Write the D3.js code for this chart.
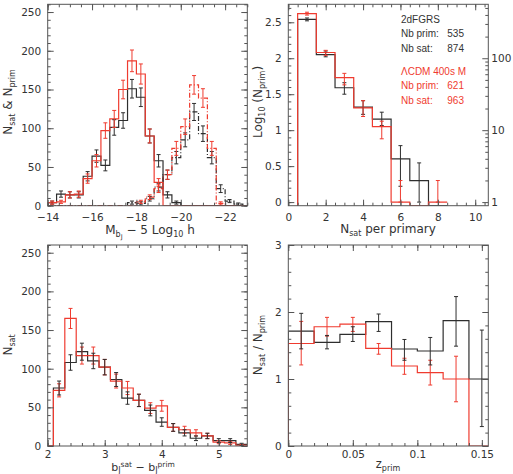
<!DOCTYPE html>
<html>
<head>
<meta charset="utf-8">
<script src="https://cdn.jsdelivr.net/npm/d3@7"></script>
<style>
  body { margin: 0; background: #fff; }
  text { font-family: "DejaVu Sans", sans-serif; fill: #333; }
</style>
</head>
<body>
<div id="chart"></div>
<script>
// ---- panel 1: luminosity functions (bins of 0.4 mag from -14) ----
var magCenters = [-14.2,-14.6,-15.0,-15.4,-15.8,-16.2,-16.6,-17.0,-17.4,-17.8,-18.2,-18.6,
                  -19.0,-19.4,-19.8,-20.2,-20.6,-21.0,-21.4,-21.8,-22.2,-22.6,-23.0];
var satObs     = [4,15,14,14,38,64,52,101,110,151,140,90,58,14,4,0,0,0,0,0,0,0,0];
var satObsErr  = [2,4,4,4,6,8,7,10,10,12,12,9,8,4,2,0,0,0,0,0,0,0,0];
var satSim     = [4,5,14,15,35,58,97,112,150,187,170,90,30,0,0,0,0,0,0,0,0,0,0];
var satSimErr  = [2,2,4,4,6,8,10,11,12,14,13,9,5,0,0,0,0,0,0,0,0,0,0];
var primObs    = [0,0,0,0,0,0,0,0,0,4,3,9,24,40,62,85,121,93,62,22,6,2,0];
var primObsErr = [0,0,0,0,0,0,0,0,0,2,2,3,5,6,8,9,11,10,8,5,2,1.5,0];
var primSim    = [0,0,0,0,0,0,0,0,0,0,5,11,22,40,74,102,156,139,74,3,0,0,0];
var primSimErr = [0,0,0,0,0,0,0,0,0,0,2,3,5,6,9,10,12,12,9,2,0,0,0];

// ---- panel 2: log10 number of primaries vs number of satellites ----
var nSat       = [1,2,3,4,5,6,7,8];
var logObs     = [2.54,2.05,1.59,1.32,1.155,0.60,0.30,null];
var logObsLo   = [2.52,2.02,1.50,1.22,1.065,0.22,0.0,null];
var logObsHi   = [2.56,2.10,1.66,1.41,1.25,0.785,0.545,null];
var logSim     = [2.62,2.08,1.73,1.31,1.05,0,null,0];
var logSimLo   = [2.60,2.04,1.63,1.19,0.88,0,null,0];
var logSimHi   = [2.64,2.11,1.79,1.41,1.125,0.30,null,0.30];
var legendObs  = [["2dFGRS",""],["Nb prim:","535"],["Nb sat:","874"]];
var legendSim  = [["\u039BCDM 400s M",""],["Nb prim:","621"],["Nb sat:","963"]];

// ---- panel 3: magnitude gap distribution (bins of 0.2) ----
var gapCenters = [2.0,2.2,2.4,2.6,2.8,3.0,3.2,3.4,3.6,3.8,4.0,4.2,4.4,4.6,4.8,5.0,5.2,5.4];
var gapObs     = [0,75,108,122,110,102,86,62,59,46,31,24,17,10,13,7,7,2];
var gapObsErr  = [0,9,10,11,10,10,9,8,8,7,5.5,5,4,3,3.5,2.5,2.5,1.5];
var gapSim     = [0,72,165,117,117,102,84,75,59,49,52,24,21,17,13,5,4,1];
var gapSimErr  = [0,8.5,13,11,11,10,9,8.5,8,7,7,5,4.5,4,3.5,2,2,1];

// ---- panel 4: satellites per primary vs redshift (bins of 0.02) ----
var zCenters   = [0.01,0.03,0.05,0.07,0.09,0.11,0.13,0.15];
var ratioObs   = [1.716,1.547,1.667,1.856,1.448,1.418,1.87,1.0];
var ratioObsLo = [1.45,1.45,1.56,1.71,1.28,1.21,1.49,0.29];
var ratioObsHi = [1.98,1.65,1.78,1.97,1.59,1.62,2.23,1.73];
var ratioSim   = [1.53,1.78,1.82,1.458,1.194,1.095,1.0,0];
var ratioSimLo = [1.21,1.64,1.71,1.37,1.07,0.91,0.66,null];
var ratioSimHi = [1.86,1.92,1.92,1.53,1.31,1.28,1.34,null];

var black = "#2e2e2e", red = "#ef3b2f", frameCol = "#555";

var svg = d3.select("#chart").append("svg")
    .attr("width", 513)
    .attr("height", 474);

function makePanel(id, xr, yr, xdom, ydom) {
  var x = d3.scaleLinear().domain(xdom).range(xr);
  var y = d3.scaleLinear().domain(ydom).range(yr);
  var g = svg.append("g");
  svg.append("clipPath").attr("id", id)
    .append("rect")
      .attr("x", xr[0]).attr("y", yr[1])
      .attr("width", xr[1] - xr[0]).attr("height", yr[0] - yr[1]);
  var plot = g.append("g").attr("clip-path", "url(#" + id + ")");
  return { g: g, plot: plot, x: x, y: y, xr: xr, yr: yr };
}

function fmt(d) { return String(d).replace("-", "\u2212"); }

function drawAxes(p, xMajor, xMinor, yMajor, yMinor, mirrorRight, xPad) {
  var g = p.g;
  function ax(axis, tx, ty) {
    var a = g.append("g").attr("transform", "translate(" + tx + "," + ty + ")").call(axis);
    a.select(".domain").remove();
    a.selectAll("line").attr("stroke", frameCol);
    a.selectAll("text").attr("font-size", "10.5px").attr("fill", "#333")
      .style("font-family", "DejaVu Sans, sans-serif");
    return a;
  }
  var bottom = p.yr[0], top = p.yr[1], left = p.xr[0], right = p.xr[1];
  ax(d3.axisBottom(p.x).tickValues(xMajor).tickSize(-6).tickPadding(xPad).tickFormat(fmt), 0, bottom);
  ax(d3.axisBottom(p.x).tickValues(xMinor).tickSize(-3).tickFormat(""), 0, bottom);
  ax(d3.axisTop(p.x).tickValues(xMajor).tickSize(-6).tickFormat(""), 0, top);
  ax(d3.axisTop(p.x).tickValues(xMinor).tickSize(-3).tickFormat(""), 0, top);
  ax(d3.axisLeft(p.y).tickValues(yMajor).tickSize(-6).tickPadding(6.5).tickFormat(fmt), left, 0);
  ax(d3.axisLeft(p.y).tickValues(yMinor).tickSize(-3).tickFormat(""), left, 0);
  if (mirrorRight) {
    ax(d3.axisRight(p.y).tickValues(yMajor).tickSize(-6).tickFormat(""), right, 0);
    ax(d3.axisRight(p.y).tickValues(yMinor).tickSize(-3).tickFormat(""), right, 0);
  }
  g.append("rect")
    .attr("x", left).attr("y", top)
    .attr("width", right - left).attr("height", bottom - top)
    .attr("fill", "none").attr("stroke", frameCol).attr("stroke-width", 1);
}

// step histogram from bin centres (bin width taken from the centre spacing)
function histogram(p, centers, values, color, dash, floor) {
  var step = centers[1] - centers[0];
  var pts = [];
  centers.forEach(function(c, i) {
    var v = values[i] == null ? floor : values[i];
    pts.push([c - step / 2, v]);
  });
  pts.unshift([centers[0] - step / 2, floor]);
  pts.push([centers[centers.length - 1] + step / 2, pts[pts.length - 1][1]]);
  var line = d3.line()
      .x(function(d) { return p.x(d[0]); })
      .y(function(d) { return p.y(d[1]); })
      .curve(d3.curveStepAfter);
  p.plot.append("path")
      .attr("d", line(pts))
      .attr("fill", "none")
      .attr("stroke", color)
      .attr("stroke-width", 1.2)
      .attr("stroke-dasharray", dash || null);
}

function errorBars(p, centers, lo, hi, color) {
  var g = p.plot.append("g").attr("stroke", color).attr("stroke-width", 1);
  centers.forEach(function(c, i) {
    if (lo[i] == null || hi[i] == null || hi[i] === lo[i]) return;
    var cx = p.x(c), y1 = p.y(lo[i]), y2 = p.y(hi[i]);
    g.append("line").attr("x1", cx).attr("x2", cx).attr("y1", y1).attr("y2", y2);
    g.append("line").attr("x1", cx - 2).attr("x2", cx + 2).attr("y1", y1).attr("y2", y1);
    g.append("line").attr("x1", cx - 2).attr("x2", cx + 2).attr("y1", y2).attr("y2", y2);
  });
}

function symErr(values, err, sign) {
  return values.map(function(v, i) { return v > 0 ? v + sign * err[i] : null; });
}

function range(a, b, s) { return d3.range(a, b + s / 2, s).map(function(v) { return +v.toFixed(4); }); }

// ============ panel 1 ============
var p1 = makePanel("c1", [47.7, 247.3], [205.7, 4.3], [-14, -23], [0, 260]);
histogram(p1, magCenters, primObs, black, "5,2,1,2", 0);
histogram(p1, magCenters, primSim, red, "5,2,1,2", 0);
histogram(p1, magCenters, satObs, black, null, 0);
histogram(p1, magCenters, satSim, red, null, 0);
errorBars(p1, magCenters, symErr(primObs, primObsErr, -1), symErr(primObs, primObsErr, 1), black);
errorBars(p1, magCenters, symErr(primSim, primSimErr, -1), symErr(primSim, primSimErr, 1), red);
errorBars(p1, magCenters, symErr(satObs, satObsErr, -1), symErr(satObs, satObsErr, 1), black);
errorBars(p1, magCenters, symErr(satSim, satSimErr, -1), symErr(satSim, satSimErr, 1), red);
drawAxes(p1, [-14, -16, -18, -20, -22], range(-23, -14, 0.5),
         range(0, 250, 50), range(0, 260, 10), true, 8);

// ============ panel 2 ============
var p2 = makePanel("c2", [288.3, 488.3], [205.7, 4.3], [0, 10.7], [-0.05, 2.75]);
histogram(p2, nSat, logObs, black, null, -0.05);
histogram(p2, nSat, logSim, red, null, -0.05);
errorBars(p2, nSat, logObsLo, logObsHi, black);
errorBars(p2, nSat, logSimLo, logSimHi, red);
drawAxes(p2, [0, 2, 4, 6, 8, 10], range(0, 10.5, 0.5), range(0, 2.5, 0.5), range(0, 2.7, 0.1), false, 8);
// right hand log axis (number of primaries)
var yLog = d3.scaleLog().domain([Math.pow(10, -0.05), Math.pow(10, 2.75)]).range([205.7, 4.3]);
var logMinor = [2,3,4,5,6,7,8,9,20,30,40,50,60,70,80,90,200,300,400,500];
var ra = p2.g.append("g").attr("transform", "translate(488.3,0)")
    .call(d3.axisRight(yLog).tickValues([1, 10, 100]).tickSize(-6).tickPadding(3).tickFormat(function(d){return d;}));
var rb = p2.g.append("g").attr("transform", "translate(488.3,0)")
    .call(d3.axisRight(yLog).tickValues(logMinor).tickSize(-3).tickFormat(""));
[ra, rb].forEach(function(a) {
  a.select(".domain").remove();
  a.selectAll("line").attr("stroke", frameCol);
  a.selectAll("text").attr("font-size", "10.5px").attr("fill", "#333");
});
function legendRows(rows, y0, color) {
  rows.forEach(function(r, i) {
    p2.g.append("text").attr("x", 401).attr("y", y0 + i * 14.5)
      .style("font-family", "Liberation Sans, sans-serif").attr("font-size", "10px")
      .style("fill", color).text(r[0]);
    p2.g.append("text").attr("x", 464).attr("y", y0 + i * 14.5)
      .style("font-family", "Liberation Sans, sans-serif").attr("font-size", "10px")
      .attr("text-anchor", "end").style("fill", color).text(r[1]);
  });
}
legendRows(legendObs, 22.5, "#333");
legendRows(legendSim, 74.5, red);

// ============ panel 3 ============
var p3 = makePanel("c3", [47.7, 247.3], [446, 245], [2, 5.5], [0, 260]);
histogram(p3, gapCenters, gapObs, black, null, 0);
histogram(p3, gapCenters, gapSim, red, null, 0);
errorBars(p3, gapCenters, symErr(gapSim, gapSimErr, -1), symErr(gapSim, gapSimErr, 1), red);
errorBars(p3, gapCenters, symErr(gapObs, gapObsErr, -1), symErr(gapObs, gapObsErr, 1), black);
drawAxes(p3, [2, 3, 4, 5], range(2, 5.4, 0.2), range(0, 250, 50), range(0, 260, 10), true, 5);

// ============ panel 4 ============
var p4 = makePanel("c4", [288.3, 488.3], [446, 245], [0, 0.155], [0, 3]);
histogram(p4, zCenters, ratioObs, black, null, 0);
histogram(p4, zCenters, ratioSim, red, null, 0);
errorBars(p4, zCenters, ratioSimLo, ratioSimHi, red);
errorBars(p4, zCenters, ratioObsLo, ratioObsHi, black);
drawAxes(p4, [0, 0.05, 0.1, 0.15], range(0, 0.15, 0.01), [0, 1, 2, 3], range(0, 3, 0.2), true, 5);

// ============ axis titles ============
// each part: [text, font size or null, dy relative to the previous part]
function label(x, y, rotate, parts, size) {
  var t = svg.append("text")
      .attr("transform", "translate(" + x + "," + y + ")" + (rotate ? " rotate(-90)" : ""))
      .attr("text-anchor", "middle")
      .attr("font-size", (size || 12) + "px");
  parts.forEach(function(p) {
    var s = t.append("tspan").text(p[0]);
    if (p[1]) s.attr("font-size", p[1] + "px");
    if (p[2]) s.attr("dy", p[2]);
  });
  return t;
}
label(150, 234, false, [["M"], ["b", 8, 3], ["J", 6.5, 2], [" \u2212 5 Log", null, -5], ["10", 8, 3], [" h", null, -3]]);
label(12, 102, true, [["N"], ["sat", 8, 3], [" & N", null, -3], ["prim", 8, 3]]);
label(388, 233, false, [["N"], ["sat", 8, 3], [" per primary", null, -3]]);
label(262, 102, true, [["Log"], ["10", 8, 3], [" (N", null, -3], ["prim", 8, 3], [")", null, -3]]);
label(143, 470.5, false, [["b"], ["J", 8, 2.5], ["sat", 7.5, -6.5], ["  \u2212  b", null, 4], ["J", 8, 2.5], ["prim", 7.5, -6.5]], 11);
label(12, 345, true, [["N"], ["sat", 8, 3]]);
label(388, 468, false, [["z"], ["prim", 8, 3]], 11.5);
label(262, 345, true, [["N"], ["sat", 8, 3], [" / N", null, -3], ["prim", 8, 3]]);
</script>
</body>
</html>
